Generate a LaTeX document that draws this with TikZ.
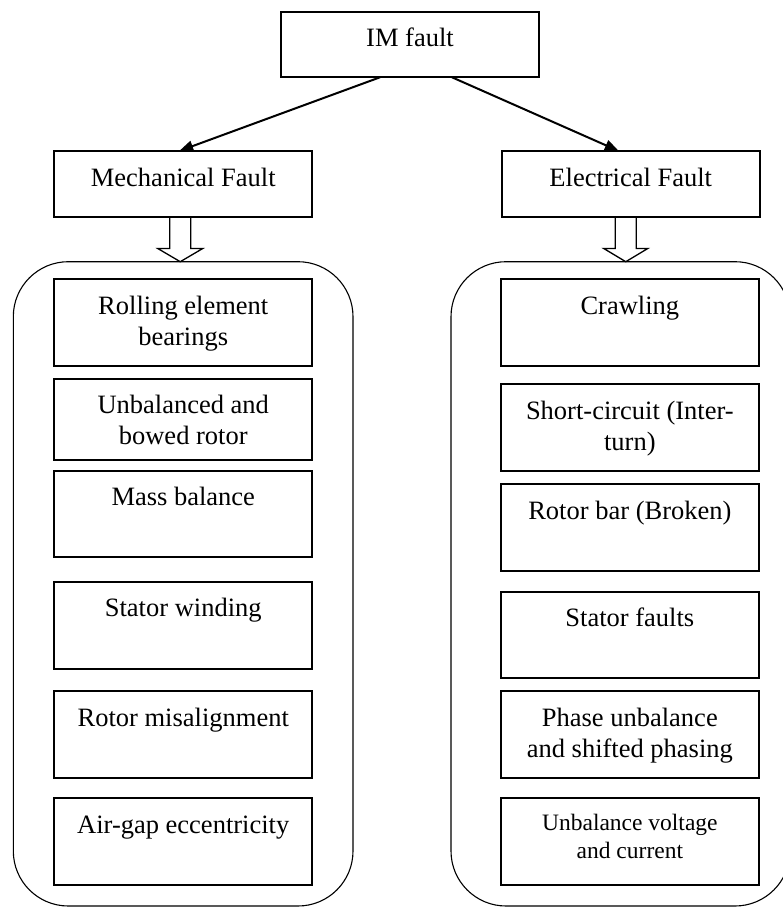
\documentclass[tikz,border=0pt]{standalone}
\usepackage{fontspec}
\setmainfont{Liberation Serif}
\usetikzlibrary{arrows.meta,calc}
\newcommand{\btext}[3][13.5pt]{\parbox[c][#2][t]{258pt}{\centering\vspace*{#1}\strut #3}}
\tikzset{
  itembox/.style={draw, line width=1.8pt, inner sep=0pt, outer sep=0pt, font=\fontsize{26.5}{31}\selectfont},
  smallbox/.style={itembox, font=\fontsize{23.5}{28}\selectfont},
  group/.style={draw, line width=1.1pt, rounded corners=55pt, inner sep=0pt, outer sep=0pt},
  link/.style={line width=2pt, -{Triangle[length=14pt,width=11pt]}},
  hollow/.style={line width=1.3pt, line join=miter}
}
\begin{document}
\begin{tikzpicture}[x=1pt, y=-1pt]
\path[use as bounding box] (0,0) rectangle (783,907);

% containers
\node[group, minimum width=339.7pt, minimum height=644.3pt] (lgrp) at (183.15,583.85) {};
\node[group, minimum width=339pt, minimum height=644.3pt] (rgrp) at (620.5,583.85) {};

% top boxes
\node[itembox] (im) at (410,44.5) {\btext{65.6pt}{IM fault}};
\node[itembox] (mech) at (183.25,184) {\btext{66pt}{Mechanical Fault}};
\node[itembox] (elec) at (630.75,184) {\btext{66pt}{Electrical Fault}};

% left items
\node[itembox] (l1) at (183.25,322.5) {\btext{86.4pt}{Rolling element\\bearings}};
\node[itembox] (l2) at (183.25,419.35) {\btext{81.3pt}{Unbalanced and\\bowed rotor}};
\node[itembox] (l3) at (183.25,514) {\btext{86.6pt}{Mass balance}};
\node[itembox] (l4) at (183.25,625.35) {\btext{87.3pt}{Stator winding}};
\node[itembox] (l5) at (183.25,734.35) {\btext{86.7pt}{Rotor misalignment}};
\node[itembox] (l6) at (183.25,841.65) {\btext{86.7pt}{Air-gap eccentricity}};

% right items
\node[itembox] (r1) at (629.85,322.5) {\btext{86.4pt}{Crawling}};
\node[itembox] (r2) at (629.85,427.65) {\btext{86.7pt}{Short-circuit (Inter-\\turn)}};
\node[itembox] (r3) at (629.85,527.35) {\btext{86.7pt}{Rotor bar (Broken)}};
\node[itembox] (r4) at (629.85,635) {\btext{86.6pt}{Stator faults}};
\node[itembox] (r5) at (629.85,734.35) {\btext{86.7pt}{Phase unbalance\\and shifted phasing}};
\node[smallbox] (r6) at (629.85,841.65) {\btext[12.4pt]{86.7pt}{Unbalance voltage\\and current}};

% arrows from IM fault
\draw[link] ([xshift=-30pt]im.south) -- ([xshift=-4pt]mech.north);
\draw[link] ([xshift=42pt]im.south) -- ([xshift=-12pt]elec.north);

% hollow arrows
\coordinate (la) at ([xshift=-3pt]mech.south);
\draw[hollow] ($(la)+(-10.5,0)$) -- ($(la)+(-10.5,31.5)$) -- ($(la)+(-22.5,31.5)$)
  -- (la |- lgrp.north) -- ($(la)+(22.5,31.5)$) -- ($(la)+(10.5,31.5)$) -- ($(la)+(10.5,0)$);
\coordinate (ra) at ([xshift=-5pt]elec.south);
\draw[hollow] ($(ra)+(-10.5,0)$) -- ($(ra)+(-10.5,31.5)$) -- ($(ra)+(-22,31.5)$)
  -- (ra |- rgrp.north) -- ($(ra)+(22,31.5)$) -- ($(ra)+(10.5,31.5)$) -- ($(ra)+(10.5,0)$);
\end{tikzpicture}
\end{document}
